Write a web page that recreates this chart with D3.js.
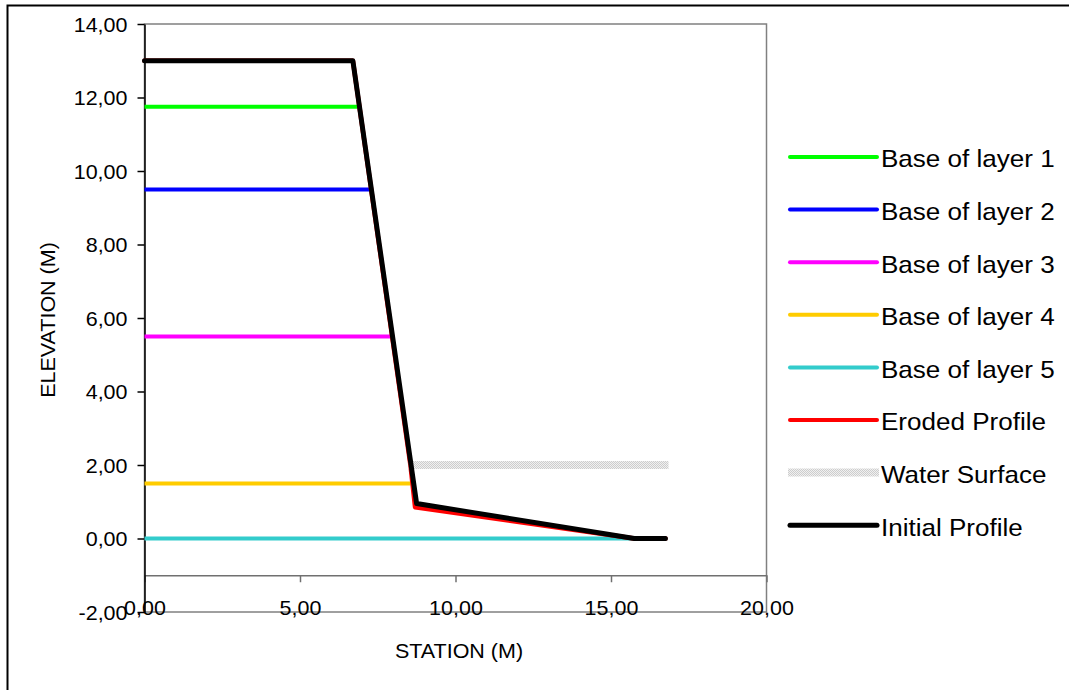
<!DOCTYPE html>
<html>
<head>
<meta charset="utf-8">
<script src="https://cdn.jsdelivr.net/npm/d3@7"></script>
<style>
  html, body { margin: 0; padding: 0; background: #fff; }
  svg { display: block; font-family: "Liberation Sans", Arial, sans-serif; }
</style>
</head>
<body>
<svg id="chart" width="1069" height="690"></svg>
<script>
// Horizontal bases of the soil layers
const layerNames = ["Base of layer 1", "Base of layer 2", "Base of layer 3", "Base of layer 4", "Base of layer 5"];
const layerColors = ["#00ff00", "#0000ff", "#ff00ff", "#ffcc00", "#33cccc"];
const layerElev = [11.75, 9.5, 5.5, 1.5, 0];
const layerEnd = [6.85, 7.25, 7.9, 8.55, 15.75];

// Eroded profile
const erodedStation = [0, 6.7, 8.55, 8.7, 15.75, 16.75];
const erodedElev = [13, 13, 2.0, 0.85, 0, 0];

// Water surface
const waterStation = [8.5, 16.85];
const waterElev = [2, 2];

// Initial profile
const initialStation = [0, 6.7, 8.75, 15.75, 16.75];
const initialElev = [13, 13, 0.95, 0, 0];

// Axis ticks
const xTicks = [0, 5, 10, 15, 20];
const yTicks = [-2, 0, 2, 4, 6, 8, 10, 12, 14];

const SX = 1.075;   // horizontal stretch of the axis glyphs
const SXL = 1.085;  // horizontal stretch of the legend glyphs

const svg = d3.select("#chart");

const x = d3.scaleLinear().domain([0, 20]).range([144.5, 766.5]);
const y = d3.scaleLinear().domain([-2, 14]).range([612, 24]);

const locale = d3.formatLocale({ decimal: ",", thousands: ".", grouping: [3], currency: ["", ""], minus: "-" });
const fmt = locale.format(".2f");

// pattern for the water surface stroke
const defs = svg.append("defs");
const pat = defs.append("pattern").attr("id", "water").attr("patternUnits", "userSpaceOnUse")
  .attr("width", 2).attr("height", 2);
pat.append("rect").attr("width", 2).attr("height", 2).attr("fill", "#f0f0f0");
pat.append("rect").attr("x", 0).attr("y", 0).attr("width", 1).attr("height", 1).attr("fill", "#cdcdcd");
pat.append("rect").attr("x", 1).attr("y", 1).attr("width", 1).attr("height", 1).attr("fill", "#cdcdcd");

// outer frame
svg.append("path").attr("d", "M7.5,690 V5.5 H1069").attr("fill", "none").attr("stroke", "#000").attr("stroke-width", 2);

// plot area border
svg.append("rect").attr("x", x(0)).attr("y", y(14)).attr("width", x(20) - x(0)).attr("height", y(-2) - y(14))
  .attr("fill", "none").attr("stroke", "#808080").attr("stroke-width", 1.5);

// x axis crossing at elevation -1
const gx = svg.append("g").attr("transform", `translate(0,${y(-1)})`)
  .call(d3.axisBottom(x).tickValues(xTicks).tickFormat(fmt).tickSize(7).tickSizeOuter(0));
gx.attr("font-family", null).attr("font-size", null);
gx.select(".domain").attr("stroke", "#707070").attr("stroke-width", 1.5);
gx.selectAll(".tick line").attr("stroke", "#707070").attr("stroke-width", 1.5);
gx.selectAll(".tick text").attr("y", null).attr("dy", "0.35em")
  .attr("transform", `translate(0,33) scale(${SX},1)`)
  .attr("font-size", 20).attr("fill", "#000");

// y axis
const gy = svg.append("g").attr("transform", `translate(${x(0)},0)`)
  .call(d3.axisLeft(y).tickValues(yTicks).tickFormat(fmt).tickSize(7).tickSizeOuter(0));
gy.attr("font-family", null).attr("font-size", null);
gy.select(".domain").attr("stroke", "#000").attr("stroke-width", 1.5);
gy.selectAll(".tick line").attr("stroke", "#000").attr("stroke-width", 1.5);
gy.selectAll(".tick text").attr("x", null).attr("dy", "0.35em")
  .attr("transform", `translate(-17,0) scale(${SX},1)`)
  .attr("font-size", 20).attr("fill", "#000");

// axis titles
svg.append("text").attr("transform", `translate(459,651) scale(${SX},1)`)
  .attr("text-anchor", "middle").attr("dy", "0.35em").attr("font-size", 20).text("STATION (M)");
svg.append("text").attr("transform", `translate(48,320) rotate(-90) scale(${SX},1)`)
  .attr("text-anchor", "middle").attr("dy", "0.35em").attr("font-size", 20).text("ELEVATION (M)");

const line = d3.line().x(d => x(d[0])).y(d => y(d[1]));
const plot = svg.append("g").attr("fill", "none").attr("stroke-linejoin", "round");

// layer bases
layerElev.forEach((e, i) => {
  plot.append("path").attr("d", line([[0, e], [layerEnd[i], e]]))
    .attr("stroke", layerColors[i]).attr("stroke-width", 4);
});

// eroded profile
plot.append("path").attr("d", line(erodedStation.map((s, i) => [s, erodedElev[i]])))
  .attr("stroke", "#ff0000").attr("stroke-width", 4.5).attr("stroke-linecap", "round");

// water surface
plot.append("path").attr("d", line(waterStation.map((s, i) => [s, waterElev[i]])))
  .attr("stroke", "url(#water)").attr("stroke-width", 8);

// initial profile
plot.append("path").attr("d", line(initialStation.map((s, i) => [s, initialElev[i]])))
  .attr("stroke", "#000").attr("stroke-width", 5).attr("stroke-linecap", "round");

// legend
const legendItems = [
  ...layerNames.map((n, i) => ({ name: n, color: layerColors[i], w: 4 })),
  { name: "Eroded Profile", color: "#ff0000", w: 4 },
  { name: "Water Surface", color: "url(#water)", w: 8, water: true },
  { name: "Initial Profile", color: "#000", w: 5 }
];
const legend = svg.append("g");
legendItems.forEach((it, i) => {
  const yy = 157 + i * 52.6;
  legend.append("line").attr("x1", it.water ? 788 : 790).attr("x2", it.water ? 879 : 877)
    .attr("y1", yy).attr("y2", yy)
    .attr("stroke", it.color).attr("stroke-width", it.w).attr("stroke-linecap", it.water ? "butt" : "round");
  legend.append("text").attr("transform", `translate(881,${yy + 2}) scale(${SXL},1)`)
    .attr("dy", "0.35em").attr("font-size", 24).attr("fill", "#000").text(it.name);
});
</script>
</body>
</html>
